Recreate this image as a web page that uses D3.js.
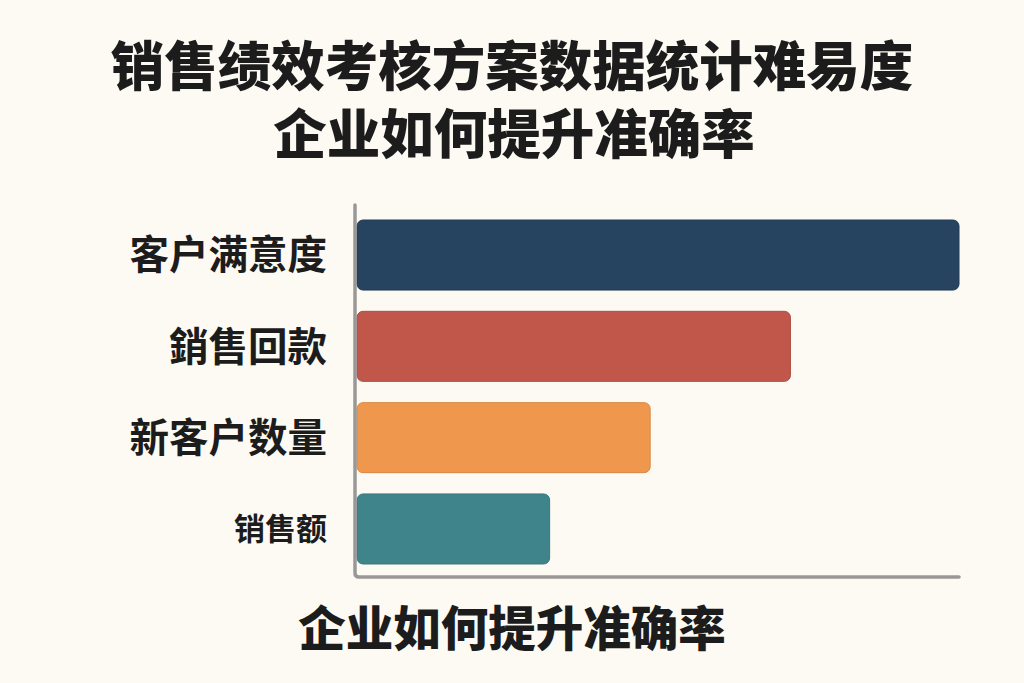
<!DOCTYPE html>
<html><head><meta charset="utf-8">
<script src="https://cdn.jsdelivr.net/npm/d3@7"></script>
<style>
html,body{margin:0;padding:0;background:#fdfaf3;}
svg{display:block;}
text{font-family:"Noto Sans CJK SC","Noto Sans",sans-serif;font-weight:700;fill:#1c1c1c;}
text.big{font-weight:900;}
</style></head>
<body>
<svg id="chart" width="1024" height="683"></svg>
<script>
const titleLines = ["销售绩效考核方案数据统计难易度", "企业如何提升准确率"];
const xAxisTitle = "企业如何提升准确率";
const categories = ["客户满意度", "銷售回款", "新客户数量", "销售额"];
const values = [100, 72, 48.7, 32];
const colors = ["#26435f", "#c1574a", "#f0974e", "#3f848a"];

const svg = d3.select("#chart");
svg.append("rect").attr("width",1024).attr("height",683).attr("fill","#fdfaf3");

const left = 357, right = 959;
const x = d3.scaleLinear().domain([0, 100]).range([left, right]);
const y = d3.scaleBand().domain(categories).range([208.6, 575.4]).paddingInner(0.233).paddingOuter(0.125);

// title (one text element, two lines)
const title = svg.append("text").attr("class","big").attr("text-anchor","middle")
  .style("font-size","53.5px");
title.selectAll("tspan").data(titleLines).join("tspan")
  .attr("x", (d,i) => i === 0 ? 512 : 514)
  .attr("y", (d,i) => i === 0 ? 86 : 154)
  .text(d => d);

// bars
svg.selectAll("rect.bar").data(categories).join("rect").attr("class","bar")
  .attr("x", x(0))
  .attr("y", d => y(d))
  .attr("width", (d,i) => x(values[i]) - x(0))
  .attr("height", y.bandwidth())
  .attr("rx", 6).attr("ry", 6)
  .attr("fill", (d,i) => colors[i])
  .attr("stroke", (d,i) => d3.color(colors[i]).darker(0.3))
  .attr("stroke-width", 1);

// axes lines
svg.append("path")
  .attr("d", `M355,205 L355,573 Q355,577 359,577 L959,577`)
  .attr("fill","none").attr("stroke","#9a9896").attr("stroke-width",3.5).attr("stroke-linecap","round");

// category labels
svg.selectAll("text.cat").data(categories).join("text").attr("class","cat")
  .attr("x", 327)
  .attr("y", d => y(d) + y.bandwidth()/2)
  .attr("dy", "0.36em")
  .attr("text-anchor","end")
  .style("font-size", (d,i) => i === categories.length-1 ? "31px" : "39.5px")
  .text(d => d);

// bottom title
svg.append("text").attr("class","big").attr("x", 512).attr("y", 646).attr("text-anchor","middle")
  .style("font-size","47.5px").text(xAxisTitle);
</script>
</body></html>
